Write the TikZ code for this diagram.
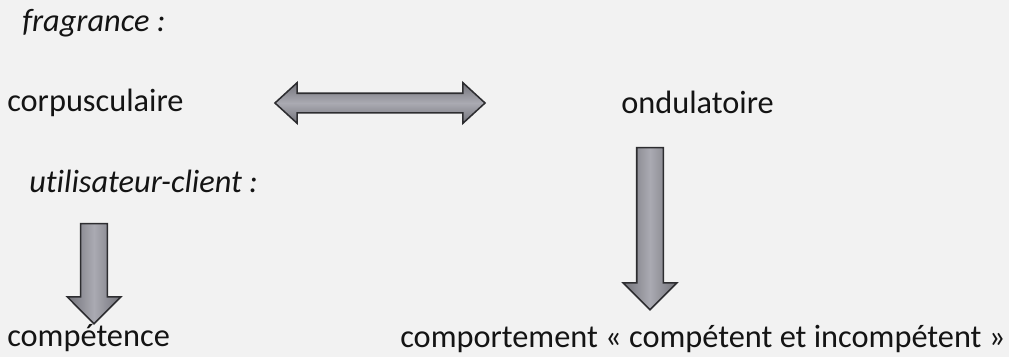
\documentclass[tikz,border=0pt]{standalone}
\usepackage{fontspec}
\setmainfont{Carlito}[Ligatures=NoCommon]
\usepackage{tikz}
\usetikzlibrary{shapes.arrows}
\definecolor{paper}{RGB}{242,242,242}
\definecolor{ink}{RGB}{20,20,20}
\definecolor{arrowline}{RGB}{45,45,48}
\definecolor{arrowdark}{RGB}{115,115,122}
\definecolor{arrowlight}{RGB}{170,170,178}

\begin{document}
\begin{tikzpicture}[x=0.025cm, y=-0.025cm,
		label/.style={anchor=base west, inner sep=0pt, text=ink, font=\fontsize{23}{27}\selectfont},
		title/.style={label, font=\fontsize{23}{27}\selectfont\itshape},
		downarrow/.style={single arrow, shape border rotate=270, draw=arrowline, line width=1.1pt,
			left color=arrowdark, right color=arrowdark, middle color=arrowlight,
			inner sep=0.3125cm, single arrow head extend=0.3375cm, single arrow tip angle=90},
		bothways/.style={double arrow, draw=arrowline, line width=1.1pt,
			top color=arrowdark, bottom color=arrowdark, middle color=arrowlight,
			inner sep=0.225cm, double arrow head extend=0.2625cm, double arrow tip angle=85}]
		\fill[paper] (0,0) rectangle (1009,357);
		\useasboundingbox (0,0) rectangle (1009,357);
		
		\node[title] (frag) at (22,31) {fragrance :};
		\node[label] (corp) at (7,111) {corpusculaire};
		\node[label] (ond) at (621,113) {ondulatoire};
		\node[bothways, minimum height=5.25cm] (swap) at (380,103) {};
		\node[downarrow, minimum height=4.05cm] (ondarrow) at (650,222) {};
		
		\node[title] (user) at (29,192) {utilisateur-client :};
		\node[downarrow, minimum height=2.5cm] (userarrow) at (94,267) {};
		\node[label] (comp) at (7,346) {compétence};
		\node[label] (behav) at (400,347) {comportement « compétent et incompétent »};
\end{tikzpicture}
\end{document}
